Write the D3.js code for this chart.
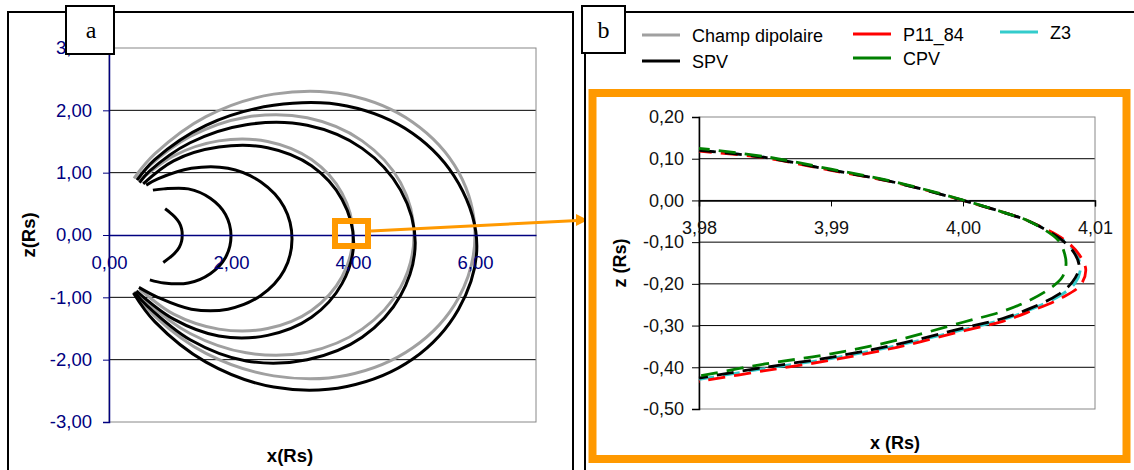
<!DOCTYPE html>
<html><head><meta charset="utf-8">
<script src="https://cdn.jsdelivr.net/npm/d3@7"></script>
<style>
html,body{margin:0;padding:0;background:#fff;}
svg{display:block;font-family:"Liberation Sans",Arial,sans-serif;}
</style></head>
<body><svg id="c" width="1134" height="470"></svg>
<script>
// ---------- Panel a data (x, z in Rs) ----------
const xTicksA = [0, 2, 4, 6];
const zTicksA = [-3, -2, -1, 0, 1, 2, 3];
const dipoleL6 = [[0.41,0.91],[0.75,1.30],[1.59,1.90],[2.70,2.26],[3.90,2.25],[4.98,1.81],[5.73,1.01],[6.00,0],[5.73,-1.01],[4.98,-1.81],[3.90,-2.25],[2.70,-2.26],[1.59,-1.90],[0.75,-1.30],[0.41,-0.91]];
const dipoleL5 = [[0.45,0.89],[0.63,1.08],[1.33,1.58],[2.25,1.89],[3.25,1.88],[4.15,1.51],[4.78,0.84],[5.00,0],[4.78,-0.84],[4.15,-1.51],[3.25,-1.88],[2.25,-1.89],[1.33,-1.58],[0.63,-1.08],[0.45,-0.89]];
const dipoleL4 = [[0.50,0.87],[1.06,1.27],[1.80,1.51],[2.60,1.50],[3.32,1.21],[3.82,0.67],[4.00,0],[3.82,-0.67],[3.32,-1.21],[2.60,-1.50],[1.80,-1.51],[1.06,-1.27],[0.50,-0.87]];
const spvL6 = [[0.46,0.88],[0.75,1.21],[1.59,1.76],[2.70,2.08],[3.90,2.07],[4.98,1.63],[5.73,0.83],[6.03,-0.18],[5.73,-1.19],[4.98,-1.99],[3.90,-2.43],[2.70,-2.44],[1.59,-2.04],[0.75,-1.39],[0.40,-0.93]];
const spvL5 = [[0.50,0.84],[0.66,1.02],[1.33,1.48],[2.25,1.77],[3.25,1.76],[4.15,1.39],[4.78,0.72],[5.02,-0.125],[4.78,-0.97],[4.15,-1.64],[3.25,-2.00],[2.25,-2.02],[1.33,-1.68],[0.63,-1.14],[0.42,-0.92]];
const spvL4 = [[0.56,0.82],[1.06,1.19],[1.80,1.41],[2.60,1.40],[3.32,1.11],[3.82,0.57],[4.01,-0.12],[3.82,-0.78],[3.32,-1.32],[2.60,-1.61],[1.80,-1.62],[1.06,-1.35],[0.45,-0.90]];
const spvL3 = [[0.61,0.80],[0.80,0.90],[1.35,1.07],[1.95,1.07],[2.49,0.85],[2.87,0.45],[3.00,-0.065],[2.87,-0.57],[2.49,-0.97],[1.95,-1.19],[1.35,-1.19],[0.80,-1.00],[0.49,-0.84]];
const spvL2 = [[0.72,0.72],[0.90,0.74],[1.30,0.74],[1.66,0.59],[1.91,0.33],[2.00,-0.015],[1.91,-0.36],[1.66,-0.62],[1.30,-0.77],[0.90,-0.77],[0.67,-0.72]];
const spvL12 = [[0.92,0.42],[1.00,0.36],[1.08,0.29],[1.15,0.20],[1.19,0.10],[1.20,0],[1.19,-0.10],[1.15,-0.20],[1.08,-0.29],[1.00,-0.36],[0.89,-0.44]];
const dipoleLines = [dipoleL6, dipoleL5, dipoleL4];
const spvLines = [spvL6, spvL5, spvL4, spvL3, spvL2, spvL12];

// ---------- Panel b data ----------
const xTicksB = [3.98, 3.99, 4.00, 4.01];
const zTicksB = [-0.5, -0.4, -0.3, -0.2, -0.1, 0, 0.1, 0.2];
const seriesNames = ["Champ dipolaire", "SPV", "P11_84", "CPV", "Z3"];
const seriesColors = ["#a0a0a0", "#000000", "#ff0000", "#008000", "#33cccc"];
const zoomZ3  = [[3.980,0.120],[3.985,0.103],[3.990,0.073],[3.995,0.042],[4.000,0.000],[4.003,-0.028],[4.005,-0.050],[4.0076,-0.095],[4.0086,-0.130],[4.0089,-0.162],[4.0085,-0.198],[4.0073,-0.229],[4.005,-0.263],[4.003,-0.286],[4.000,-0.310],[3.995,-0.348],[3.990,-0.379],[3.985,-0.403],[3.980,-0.429]];
const zoomP11 = [[3.980,0.118],[3.985,0.102],[3.990,0.072],[3.995,0.042],[4.000,0.000],[4.003,-0.028],[4.005,-0.050],[4.0077,-0.095],[4.0088,-0.130],[4.0093,-0.166],[4.0089,-0.203],[4.0075,-0.233],[4.005,-0.267],[4.003,-0.290],[4.000,-0.313],[3.995,-0.352],[3.990,-0.383],[3.985,-0.408],[3.980,-0.434]];
const zoomSPV = [[3.980,0.120],[3.985,0.103],[3.990,0.073],[3.995,0.042],[4.000,0.000],[4.003,-0.028],[4.005,-0.050],[4.0075,-0.095],[4.0085,-0.130],[4.0088,-0.160],[4.0083,-0.195],[4.0072,-0.226],[4.005,-0.260],[4.003,-0.283],[4.000,-0.306],[3.995,-0.345],[3.990,-0.376],[3.985,-0.400],[3.980,-0.426]];
const zoomCPV = [[3.980,0.125],[3.985,0.105],[3.990,0.075],[3.995,0.043],[4.000,0.001],[4.003,-0.028],[4.005,-0.050],[4.0072,-0.095],[4.0077,-0.128],[4.0078,-0.155],[4.0075,-0.185],[4.0065,-0.213],[4.0048,-0.243],[4.003,-0.266],[4.000,-0.292],[3.995,-0.335],[3.990,-0.368],[3.985,-0.392],[3.980,-0.421]];
const zoomSeries = [
  {data: zoomZ3,  color: seriesColors[4], off: 2},
  {data: zoomP11, color: seriesColors[2], off: 4},
  {data: zoomSPV, color: seriesColors[1], off: 0},
  {data: zoomCPV, color: seriesColors[3], off: 6}
];

const svg = d3.select("#c");
const navy = "#000080";
const orange = "#ff9900";
const fmt = d3.formatLocale({decimal: ",", thousands: ".", grouping: [3], currency: ["", ""], minus: "-"}).format(".2f");

// ================= Panel a =================
svg.append("rect").attr("x", 8).attr("y", 12).attr("width", 565).attr("height", 470)
  .attr("fill", "#fff").attr("stroke", "#000").attr("stroke-width", 2);

const xA = d3.scaleLinear().domain([0, 7]).range([109, 536]);
const zA = d3.scaleLinear().domain([-3, 3]).range([422, 48]);

const gA = svg.append("g");
gA.selectAll("line.grid").data(zTicksA.filter(d => d !== 0 && Math.abs(d) !== 3)).join("line")
  .attr("x1", xA(0)).attr("x2", xA(7)).attr("y1", d => zA(d)).attr("y2", d => zA(d))
  .attr("stroke", "#000").attr("stroke-width", 1);
gA.append("rect").attr("x", xA(0)).attr("y", zA(3)).attr("width", xA(7) - xA(0)).attr("height", zA(-3) - zA(3))
  .attr("fill", "none").attr("stroke", "#888").attr("stroke-width", 1);

const lineA = d3.line().x(d => xA(d[0])).y(d => zA(d[1])).curve(d3.curveCatmullRom.alpha(0.5));
gA.selectAll("path.dip").data(dipoleLines).join("path")
  .attr("d", lineA).attr("fill", "none").attr("stroke", "#a0a0a0").attr("stroke-width", 3);
gA.selectAll("path.spv").data(spvLines).join("path")
  .attr("d", lineA).attr("fill", "none").attr("stroke", "#000").attr("stroke-width", 3);

const yAxA = gA.append("g").attr("transform", `translate(${xA(0)},0)`)
  .call(d3.axisLeft(zA).tickValues(zTicksA).tickFormat(fmt).tickSize(6).tickPadding(11));
yAxA.select(".domain").attr("stroke", navy).attr("stroke-width", 1.5);
yAxA.selectAll(".tick line").attr("stroke", navy);
yAxA.selectAll("text").attr("fill", navy).attr("font-size", 18.5).attr("font-family", '"Liberation Sans",Arial,sans-serif');
const xAxA = gA.append("g").attr("transform", `translate(0,${zA(0)})`)
  .call(d3.axisBottom(xA).tickValues(xTicksA).tickFormat(fmt).tickSize(0).tickPadding(21));
xAxA.select(".domain").attr("stroke", navy).attr("stroke-width", 1.5);
xAxA.selectAll("text").attr("fill", navy).attr("font-size", 18.5).attr("font-family", '"Liberation Sans",Arial,sans-serif');

svg.append("text").attr("transform", `translate(35,${zA(0)}) rotate(-90)`).attr("text-anchor", "middle")
  .attr("font-weight", "bold").attr("font-size", 18.5).text("z(Rs)");
svg.append("text").attr("x", 290).attr("y", 462).attr("text-anchor", "middle")
  .attr("font-weight", "bold").attr("font-size", 18.5).text("x(Rs)");

svg.append("rect").attr("x", 335).attr("y", 221).attr("width", 33).attr("height", 25)
  .attr("fill", "none").attr("stroke", orange).attr("stroke-width", 6);
svg.append("line").attr("x1", 371).attr("y1", 231).attr("x2", 578).attr("y2", 220.5)
  .attr("stroke", orange).attr("stroke-width", 3);
svg.append("path").attr("d", "M576,214 L588,220 L576,226 Z").attr("fill", orange);

svg.append("rect").attr("x", 66).attr("y", 6).attr("width", 48).attr("height", 48)
  .attr("fill", "#fff").attr("stroke", "#000").attr("stroke-width", 2);
svg.append("text").attr("x", 91).attr("y", 38).attr("text-anchor", "middle")
  .attr("font-family", '"Liberation Serif","Times New Roman",serif').attr("font-size", 24).text("a");

// ================= Panel b =================
svg.append("rect").attr("x", 585).attr("y", 12).attr("width", 560).attr("height", 470)
  .attr("fill", "#fff").attr("stroke", "#000").attr("stroke-width", 2);

const legPos = [[642, 35], [642, 61], [853, 34], [853, 58], [1000, 32]];
const leg = svg.append("g");
seriesNames.forEach((name, i) => {
  const [lx, ly] = legPos[i];
  leg.append("line").attr("x1", lx).attr("x2", lx + 38).attr("y1", ly).attr("y2", ly)
    .attr("stroke", seriesColors[i]).attr("stroke-width", 3);
  leg.append("text").attr("x", lx + 50).attr("y", ly + 7).attr("font-size", 18).attr("fill", "#000").text(name);
});

svg.append("rect").attr("x", 592.5).attr("y", 93).attr("width", 534).attr("height", 366)
  .attr("fill", "#fff").attr("stroke", orange).attr("stroke-width", 8);

const xB = d3.scaleLinear().domain([3.98, 4.01]).range([699, 1095]);
const zB = d3.scaleLinear().domain([-0.5, 0.2]).range([409, 117]);
const gB = svg.append("g");
gB.selectAll("line.grid").data(zTicksB.filter(d => d > -0.45 && d < 0.15)).join("line")
  .attr("x1", xB(3.98)).attr("x2", xB(4.01)).attr("y1", d => zB(d)).attr("y2", d => zB(d))
  .attr("stroke", "#000").attr("stroke-width", 1);
gB.append("rect").attr("x", xB(3.98)).attr("y", zB(0.2)).attr("width", xB(4.01) - xB(3.98)).attr("height", zB(-0.5) - zB(0.2))
  .attr("fill", "none").attr("stroke", "#888").attr("stroke-width", 1);

const yAxB = gB.append("g").attr("transform", `translate(${xB(3.98)},0)`)
  .call(d3.axisLeft(zB).tickValues(zTicksB).tickFormat(fmt).tickSize(7).tickPadding(8));
yAxB.select(".domain").attr("stroke", "#000").attr("stroke-width", 1.5);
yAxB.selectAll(".tick line").attr("stroke", "#000");
yAxB.selectAll("text").attr("fill", "#111").attr("font-size", 18).attr("font-family", '"Liberation Sans",Arial,sans-serif');

const xAxB = gB.append("g").attr("transform", `translate(0,${zB(0)})`)
  .call(d3.axisBottom(xB).tickValues(xTicksB).tickFormat(fmt).tickSize(6).tickPadding(15));
xAxB.select(".domain").attr("stroke", "#000").attr("stroke-width", 1.5);
xAxB.selectAll(".tick line").attr("stroke", "#000");
xAxB.selectAll("text").attr("fill", "#111").attr("font-size", 18).attr("font-family", '"Liberation Sans",Arial,sans-serif');

const lineB = d3.line().x(d => xB(d[0])).y(d => zB(d[1])).curve(d3.curveCatmullRom.alpha(0.5));
gB.selectAll("path.s").data(zoomSeries).join("path")
  .attr("d", d => lineB(d.data)).attr("fill", "none")
  .attr("stroke", d => d.color).attr("stroke-width", 2.8)
  .attr("stroke-dasharray", "17,9").attr("stroke-dashoffset", d => d.off);

svg.append("text").attr("transform", `translate(626,263) rotate(-90)`).attr("text-anchor", "middle")
  .attr("font-weight", "bold").attr("font-size", 18).text("z (Rs)");
svg.append("text").attr("x", 895).attr("y", 449).attr("text-anchor", "middle")
  .attr("font-weight", "bold").attr("font-size", 18).text("x (Rs)");

svg.append("rect").attr("x", 582).attr("y", 6).attr("width", 43).attr("height", 47)
  .attr("fill", "#fff").attr("stroke", "#000").attr("stroke-width", 2);
svg.append("text").attr("x", 603.5).attr("y", 38).attr("text-anchor", "middle")
  .attr("font-family", '"Liberation Serif","Times New Roman",serif').attr("font-size", 24).text("b");
</script></body></html>
